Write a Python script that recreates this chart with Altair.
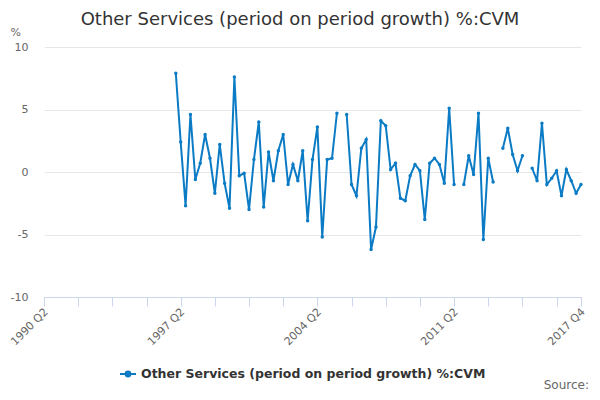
import altair as alt
import pandas as pd

TITLE = "Other Services (period on period growth) %:CVM"
SERIES = "Other Services (period on period growth) %:CVM"
SOURCE = "Source:"

# quarter index 0 = 1990 Q2, data starts at 1997 Q1 (index 27)
start_index = 27
values = [
    7.9, 2.4, -2.7, 4.6, -0.6, 0.7, 3.0, 1.1, -1.7, 2.2,
    -0.9, -2.9, 7.6, -0.3, -0.1, -3.0, 1.0, 4.0, -2.8, 1.6,
    -0.7, 1.7, 3.0, -1.0, 0.6, -0.7, 1.7, -3.9, 1.0, 3.6,
    -5.2, 1.0, 1.1, 4.7, None, 4.6, -1.0, -1.9, 1.9, 2.6,
    -6.2, -4.4, 4.1, 3.7, 0.2, 0.7, -2.1, -2.3, -0.3, 0.6,
    0.1, -3.8, 0.7, 1.1, 0.6, -0.9, 5.1, -1.0, None, -1.0,
    1.3, -0.2, 4.7, -5.4, 1.1, -0.8, None, 1.9, 3.5, 1.4,
    0.1, 1.3, None, 0.3, -0.7, 3.9, -1.0, -0.5, 0.1, -1.9,
    0.2, -0.7, -1.7, -1.0,
]
tick_values = [0, 7, 14, 21, 28, 35, 42, 49, 56, 63, 70, 77, 84, 91, 98, 105, 110]
label_values = [0, 28, 56, 84, 110]
y_ticks = [-10, -5, 0, 5, 10]

def qlabel(i):
    return f"{1990 + (i + 1) // 4} Q{(i + 1) % 4 + 1}"

rows = []
seg = 0
for k, v in enumerate(values):
    i = start_index + k
    if v is None:
        seg += 1
        continue
    rows.append({"idx": i, "quarter": qlabel(i), "value": v, "seg": seg, "series": SERIES})
df = pd.DataFrame(rows)

label_expr = "indexof([" + ",".join(str(i) for i in label_values) + "], datum.value) >= 0 ? " + \
    "(floor((datum.value + 1) / 4) + 1990) + ' Q' + ((datum.value + 1) % 4 + 1) : ''"

color = "#0a7bc4"
FONT = "DejaVu Sans"

base = alt.Chart(df)

line = base.mark_line(strokeWidth=2, point=alt.OverlayMarkDef(size=12, filled=True, color=color)).encode(
    x=alt.X("idx:Q",
            scale=alt.Scale(domain=[0, 110], nice=False, zero=False),
            axis=alt.Axis(values=tick_values, labelExpr=label_expr, labelAngle=-45,
                          labelAlign="right", labelBaseline="middle", labelPadding=4,
                          labelOffset=2,
                          labelColor="#666666", labelFontSize=11, labelFont=FONT,
                          domainColor="#ccd6eb", tickColor="#ccd6eb", tickSize=9,
                          grid=False, title=None, labelOverlap=False, labelFlush=False)),
    y=alt.Y("value:Q",
            scale=alt.Scale(domain=[-10, 10], nice=False),
            axis=alt.Axis(values=y_ticks, domain=False, ticks=False, labelPadding=16,
                          labelExpr="toString(datum.value)",
                          labelColor="#666666", labelFontSize=11, labelFont=FONT,
                          gridColor="#e6e6e6", title="%", titleAngle=0, titleX=-34,
                          titleY=-15, titleAlign="left", titleBaseline="middle",
                          titleFontWeight="normal", titleColor="#666666",
                          titleFontSize=11, titleFont=FONT)),
    detail="seg:N",
    color=alt.Color("series:N",
                    scale=alt.Scale(domain=[SERIES], range=[color]),
                    legend=alt.Legend(title=None, orient="none", legendX=75, legendY=318,
                                      symbolType="M-1,0L1,0M-0.3,0a0.3,0.3 0 1,0 0.6,0a0.3,0.3 0 1,0 -0.6,0",
                                      symbolSize=256, symbolStrokeWidth=2,
                                      symbolFillColor=color, symbolStrokeColor=color,
                                      labelFontWeight="bold", labelFontSize=12.5,
                                      labelColor="#333333", labelFont=FONT, labelLimit=500)),
    tooltip=["quarter:N", "value:Q"],
)

source = alt.Chart(pd.DataFrame({"t": [SOURCE]})).mark_text(
    align="right", baseline="alphabetic", fontSize=12, color="#666666", font=FONT
).encode(text="t:N", x=alt.value(545), y=alt.value(342))

title = alt.Chart(pd.DataFrame({"t": [TITLE]})).mark_text(
    align="center", baseline="middle", fontSize=18, color="#333333", font=FONT
).encode(text="t:N", x=alt.value(256), y=alt.value(-27))

chart = alt.layer(line, source, title).properties(
    width=537, height=250,
    autosize=alt.AutoSizeParams(type="none"),
    padding={"left": 36, "top": 39, "right": 11, "bottom": 95},
).configure_view(stroke=None)

chart.save("out.html", embed_options={"renderer": "svg", "actions": False})
